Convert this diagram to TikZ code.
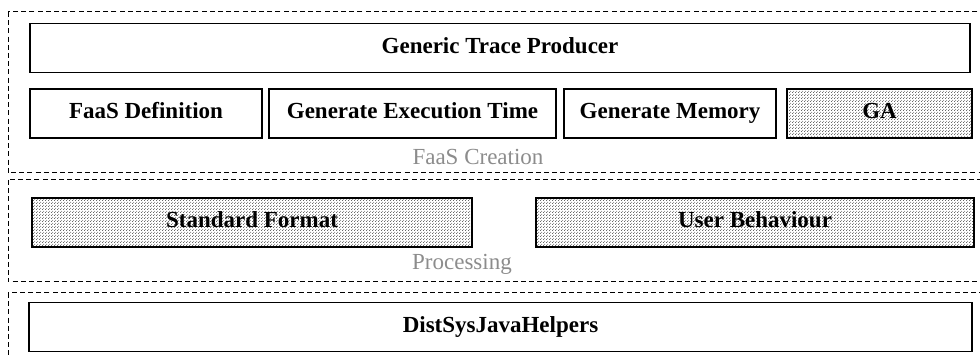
\documentclass[tikz,border=0pt]{standalone}
\usepackage{fontspec}
\setmainfont{Liberation Serif}
\usetikzlibrary{patterns.meta}

\tikzdeclarepattern{
  name=finedots,
  type=uncolored,
  bounding box={(0,0) and (1.5pt,1.5pt)},
  tile size={(1.5pt,1.5pt)},
  code={
    \fill (0.375pt,0.375pt) circle (0.3pt);
    \fill (1.125pt,1.125pt) circle (0.3pt);
  }
}

\tikzset{
  layer/.style={draw, dashed, dash pattern=on 2.5pt off 1.6pt, line width=0.5pt},
  box/.style={draw, line width=0.7pt, inner sep=0pt, minimum height=24.5pt,
    text height=0.66em, text depth=0.12em,
    font=\fontsize{11.5}{13}\selectfont\bfseries},
  dotted box/.style={box, pattern={finedots}, pattern color=black!80},
  layerlabel/.style={font=\fontsize{11.5}{13}\selectfont, text=black!45, inner sep=0pt}
}

\begin{document}
\begin{tikzpicture}[x=0.5pt, y=-0.5pt]
  \useasboundingbox (0,0) rectangle (980,357);
  \clip (0,0) rectangle (980,357);

  % layers
  \draw[layer] (8,12) rectangle (1000,173);
  \draw[layer] (8,180) rectangle (1000,282);
  \draw[layer] (8,293) rectangle (1000,400);

  % FaaS creation layer
  \node[box, minimum width=470pt] (gtp) at (500,48) {Generic Trace Producer};
  \node[box, minimum width=116pt] (faas) at (146,113.5) {FaaS Definition};
  \node[box, minimum width=143.5pt] (exec) at (412.5,113.5) {Generate Execution Time};
  \node[box, minimum width=106pt] (mem) at (670,113.5) {Generate Memory};
  \node[dotted box, minimum width=92.5pt] (ga) at (879.5,113.5) {GA};
  \node[layerlabel] (l1) at (478,157) {FaaS Creation};

  % processing layer
  \node[dotted box, minimum width=220pt] (std) at (252,222.5) {Standard Format};
  \node[dotted box, minimum width=219pt] (user) at (755,222.5) {User Behaviour};
  \node[layerlabel] (l2) at (462,264) {Processing};

  % helpers layer
  \node[box, minimum width=471.5pt] (dist) at (500.5,327) {DistSysJavaHelpers};
\end{tikzpicture}
\end{document}
